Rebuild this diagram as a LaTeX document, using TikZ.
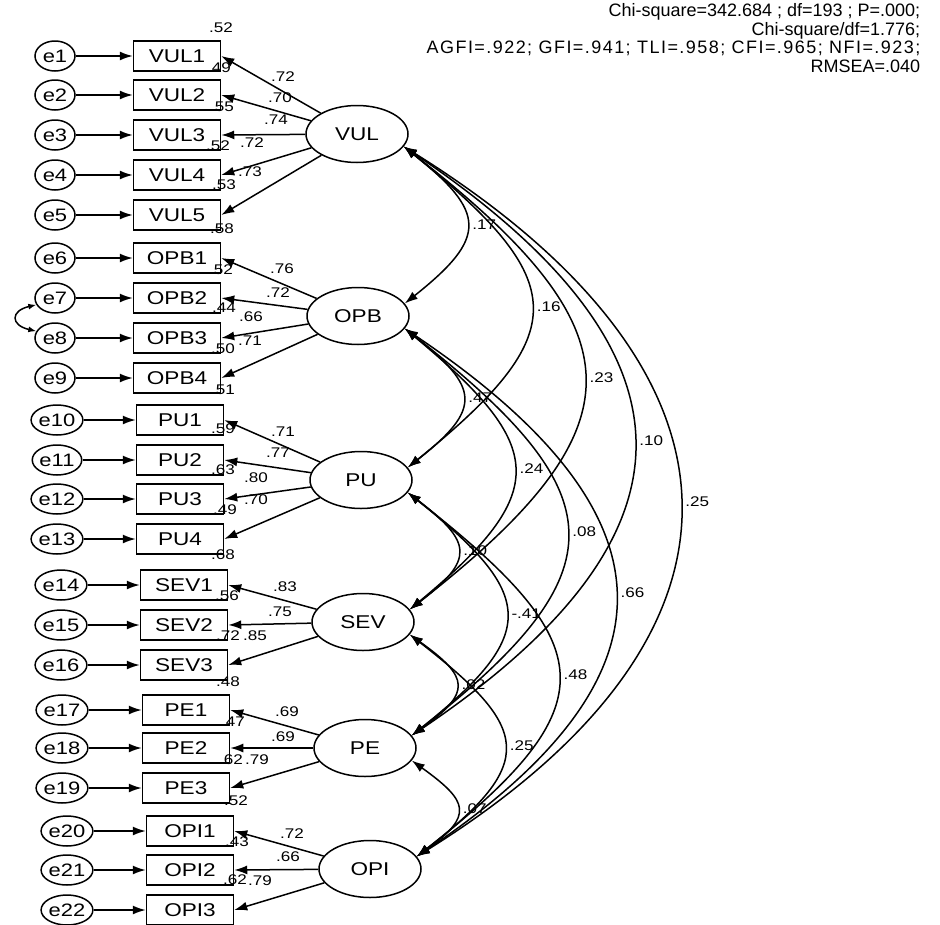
\documentclass[tikz,border=0pt]{standalone}
\usepackage{fontspec}
\setmainfont{Liberation Sans}
\newfontfamily\widesans{Liberation Sans}[FakeStretch=1.22]
\usetikzlibrary{arrows.meta,calc,shapes.geometric}
\begin{document}
\begin{tikzpicture}[x=1pt,y=-1pt,
  line width=1.5pt,
  obs/.style={draw, rectangle, minimum width=87pt, minimum height=30pt, inner sep=0pt, font=\widesans\fontsize{18.5}{20}\selectfont},
  err/.style={draw, ellipse, minimum width=40pt, minimum height=30pt, inner sep=0pt, font=\widesans\fontsize{18}{20}\selectfont},
  lat/.style={draw, ellipse, minimum width=102pt, minimum height=57pt, inner sep=0pt, font=\widesans\fontsize{18.5}{20}\selectfont},
  lbl/.style={font=\widesans\fontsize{14}{15}\selectfont, inner sep=0pt},
  arr/.style={-{Latex[length=13pt,width=9pt]}},
  cov/.style={{Latex[length=13pt,width=9pt]}-{Latex[length=13pt,width=9pt]}},
  smallcov/.style={{Latex[length=8pt,width=6pt]}-{Latex[length=8pt,width=6pt]}},
]
\useasboundingbox (0,0) rectangle (940,924);

% latent variables
\node[lat] (VUL) at (357,134) {VUL};
\node[lat] (OPB) at (358,316) {OPB};
\node[lat] (PU)  at (361,480) {PU};
\node[lat] (SEV) at (363,622) {SEV};
\node[lat] (PE)  at (365,748) {PE};
\node[lat] (OPI) at (370,869) {OPI};

% observed variables and errors
\foreach \n/\bx/\by/\ex/\e in {
  VUL1/177/56/55/1, VUL2/177/95/55/2, VUL3/177/135/55/3, VUL4/177/175/55/4, VUL5/177/215/55/5,
  OPB1/177/258/55/6, OPB2/177/298/55/7, OPB3/177/338/55/8, OPB4/177/378/55/9,
  PU1/180/420/57/10, PU2/180/460/57/11, PU3/180/499/57/12, PU4/180/539/57/13,
  SEV1/184/585/61/14, SEV2/184/625/61/15, SEV3/184/665/61/16,
  PE1/186/710/62/17, PE2/186/748/62/18, PE3/186/788/62/19,
  OPI1/190/831/67/20, OPI2/190/870/67/21, OPI3/190/910/67/22}
{
  \node[obs] (\n) at (\bx,\by) {\n};
  \node[err] (e\e) at (\ex,\by) {e\e};
  \draw[arr] (e\e) -- (\n);
}

% loadings
\foreach \l/\b in {VUL/VUL1, VUL/VUL2, VUL/VUL3, VUL/VUL4, VUL/VUL5,
  OPB/OPB1, OPB/OPB2, OPB/OPB3, OPB/OPB4,
  PU/PU1, PU/PU2, PU/PU3, PU/PU4,
  SEV/SEV1, SEV/SEV2, SEV/SEV3,
  PE/PE1, PE/PE2, PE/PE3,
  OPI/OPI1, OPI/OPI2, OPI/OPI3}
{
  \draw[arr] (\l) -- (\b.east);
}

% loading labels
\foreach \k/\x/\y/\t in {
  1/283/77/.72, 2/280/98/.70, 3/276/120/.74, 4/252/143/.72, 5/250/172/.73,
  6/282/269/.76, 7/278/293/.72, 8/251/317/.66, 9/250/341/.71,
  10/283/432/.71, 11/278/453/.77, 12/256/478/.80, 13/256/500/.70,
  14/285/587/.83, 15/280/612/.75, 16/255/636/.85,
  17/287/712/.69, 18/283/737/.69, 19/257/760/.79,
  20/292/834/.72, 21/288/857/.66, 22/260/881/.79}
{
  \node[lbl] (l\k) at (\x,\y) {\t};
}

% squared multiple correlations
\foreach \k/\x/\y/\t in {
  1/221/28/.52, 2/219/68/.49, 3/222/107/.55, 4/218/146/.52, 5/224/185/.53,
  6/222/229/.58, 7/221/270/.52, 8/224/308/.44, 9/223/349/.50,
  10/223/390/.51, 11/223/429/.59, 12/223/470/.63, 13/225/510/.49,
  14/223/555/.68, 15/227/596/.56, 16/228/636/.72,
  17/228/682/.48, 18/233/722/.47, 19/231/760/.62,
  20/236/801/.52, 21/237/842/.43, 22/235/880/.62}
{
  \node[lbl] (r\k) at (\x,\y) {\t};
}

% covariances between latent variables
\foreach \a/\b/\h/\v/\t/\k in {
  VUL/OPB/83/66/.17/1, VUL/PU/167/135/.16/2, VUL/SEV/236/184/.23/3,
  VUL/PE/301/203/.10/4, VUL/OPI/359/224/.25/5,
  OPB/PU/75/59/.47/6, OPB/SEV/142/118/.24/7, OPB/PE/211/165/.08/8, OPB/OPI/272/183/.66/9,
  PU/SEV/65/50/.10/10, PU/PE/128/102/-.41/11, PU/OPI/194/152/.48/12,
  SEV/PE/60/43/.02/13, SEV/OPI/121/94/.25/14,
  PE/OPI/57/41/.07/15}
{
  \draw[cov] (\a.-15) .. controls +(\h,\v) and +(\h,-\v) .. (\b.15)
    node[lbl, pos=0.5, right=5pt] (c\k) {\t};
}

% error covariance e7 - e8
\draw[smallcov] (e7.200) .. controls +(-26,6) and +(-26,-6) .. (e8.160);

% fit indices
\node[anchor=north east, align=right, inner sep=0pt,
  font=\fontsize{18}{18.5}\selectfont] (fit) at (921,3)
  {Chi-square=342.684 ; df=193 ; P=.000;\\
   Chi-square/df=1.776;\\
   {\addfontfeature{LetterSpace=8}AGFI=.922; GFI=.941; TLI=.958; CFI=.965; NFI=.923;}\\
   RMSEA=.040};
\end{tikzpicture}
\end{document}
